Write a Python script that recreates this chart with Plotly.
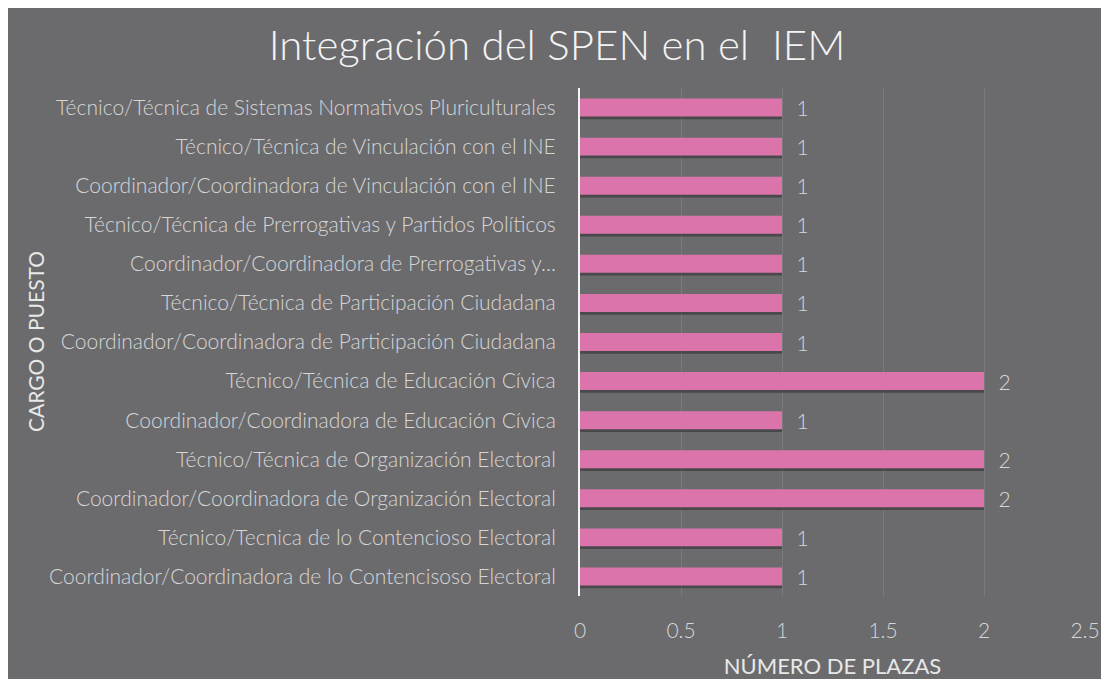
import plotly.graph_objects as go

categories = [
    "Coordinador/Coordinadora de lo Contencisoso Electoral",
    "Técnico/Tecnica de lo Contencioso Electoral",
    "Coordinador/Coordinadora de Organización Electoral",
    "Técnico/Técnica de Organización Electoral",
    "Coordinador/Coordinadora de Educación Cívica",
    "Técnico/Técnica de Educación Cívica",
    "Coordinador/Coordinadora de Participación Ciudadana",
    "Técnico/Técnica de Participación Ciudadana",
    "Coordinador/Coordinadora de Prerrogativas y...",
    "Técnico/Técnica de Prerrogativas y Partidos Políticos",
    "Coordinador/Coordinadora de Vinculación con el INE",
    "Técnico/Técnica de Vinculación con el INE",
    "Técnico/Técnica de Sistemas Normativos Pluriculturales",
]
plazas = [1, 1, 2, 2, 1, 2, 1, 1, 1, 1, 1, 1, 1]
x_ticks = [0, 0.5, 1, 1.5, 2, 2.5]
x_tick_labels = ["0", "0.5", "1", "1.5", "2", "2.5"]

FONT = "Lato"
LABEL = "#d6d6d6"
BG = "#6b6b6e"
BAR_W = 0.46

W, H = 1093, 671
L, R, T, B = 572, 16, 80, 83
PW = W - L - R

fig = go.Figure()
# soft shadow under each bar
fig.add_trace(
    go.Bar(
        y=categories,
        x=plazas,
        orientation="h",
        width=BAR_W,
        offset=-BAR_W / 2 - 0.07,
        marker=dict(color="rgba(45,45,50,0.55)", line=dict(width=0)),
        hoverinfo="skip",
    )
)
fig.add_trace(
    go.Bar(
        y=categories,
        x=plazas,
        orientation="h",
        width=BAR_W,
        offset=-BAR_W / 2,
        marker=dict(color="#db74aa", line=dict(width=0)),
        text=plazas,
        texttemplate="  %{x}",
        textposition="outside",
        constraintext="none",
        textfont=dict(family=FONT, size=21, color=LABEL, weight=300),
        cliponaxis=False,
    )
)

fig.update_layout(
    width=W,
    height=H,
    paper_bgcolor=BG,
    plot_bgcolor=BG,
    margin=dict(l=L, r=R, t=T, b=B, autoexpand=False),
    barmode="overlay",
    title=dict(
        text="Integración del SPEN en el  IEM",
        x=549 / W,
        xanchor="center",
        y=1 - 37 / H,
        yanchor="middle",
        font=dict(family=FONT, size=42, color="#f4f4f4", weight=300),
    ),
    showlegend=False,
    annotations=[
        dict(
            text="CARGO O PUESTO",
            textangle=-90,
            xref="paper",
            yref="paper",
            x=(27 - L) / PW,
            y=0.5,
            xanchor="center",
            yanchor="middle",
            showarrow=False,
            font=dict(family=FONT, size=21, color="#e8e8e8"),
        )
    ],
)

fig.update_xaxes(
    range=[0, 2.5],
    tickvals=x_ticks,
    ticktext=x_tick_labels,
    showgrid=True,
    gridcolor="rgba(255,255,255,0.10)",
    gridwidth=1,
    zeroline=False,
    showline=False,
    ticks="",
    automargin=False,
    ticklabeloverflow="allow",
    tickfont=dict(family=FONT, size=21, color=LABEL, weight=300),
    ticklabelstandoff=20,
    title=dict(text="NÚMERO DE PLAZAS", font=dict(family=FONT, size=22, color="#e8e8e8"), standoff=18),
)

fig.update_yaxes(
    showgrid=False,
    zeroline=False,
    showline=True,
    linecolor="#f4f4f4",
    linewidth=2,
    ticks="",
    automargin=False,
    tickfont=dict(family=FONT, size=21, color=LABEL, weight=300),
    ticklabelstandoff=18,
)

fig.write_html("out.html")
